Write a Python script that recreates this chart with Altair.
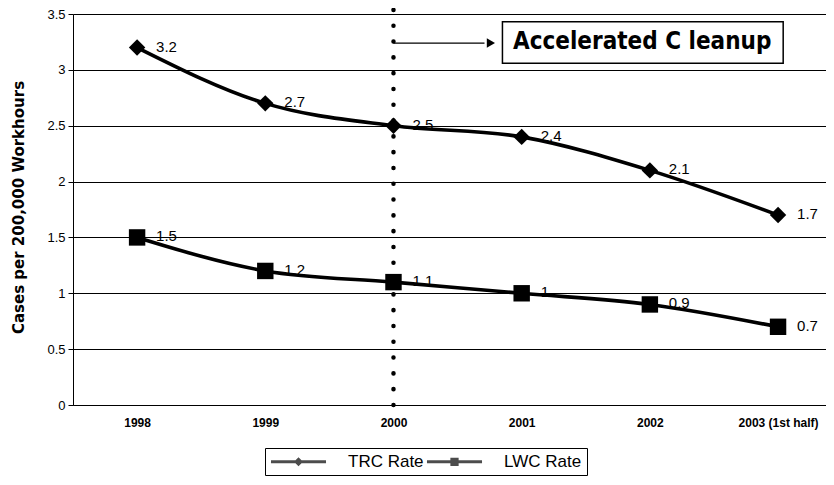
import json
import altair as alt
import pandas as pd

years = ["1998", "1999", "2000", "2001", "2002", "2003 (1st half)"]
trc = [3.2, 2.7, 2.5, 2.4, 2.1, 1.7]
lwc = [1.5, 1.2, 1.1, 1.0, 0.9, 0.7]
trc_labels = ["3.2", "2.7", "2.5", "2.4", "2.1", "1.7"]
lwc_labels = ["1.5", "1.2", "1.1", "1", "0.9", "0.7"]
series_names = ["TRC Rate", "LWC Rate"]
y_ticks = [0, 0.5, 1, 1.5, 2, 2.5, 3, 3.5]
annotation_text = "Accelerated C leanup"
y_title = "Cases per 200,000 Workhours"

rows = []
for s, vals, labs in [(series_names[0], trc, trc_labels), (series_names[1], lwc, lwc_labels)]:
    for i, (yr, v, lab) in enumerate(zip(years, vals, labs)):
        rows.append({"series": s, "idx": i, "year": yr, "value": v, "label": lab})
df = pd.DataFrame(rows)

FONT = "Liberation Sans"
label_expr = json.dumps(years) + "[datum.value]"

xscale = alt.Scale(domain=[-0.5, 5.374], nice=False, zero=False)
yscale = alt.Scale(domain=[0, 3.5], nice=False)

x_enc = alt.X("idx:Q", scale=xscale, title=None,
              axis=alt.Axis(values=list(range(len(years))), labelExpr=label_expr, grid=False,
                            ticks=False, domain=True, domainColor="black", labelPadding=12,
                            labelFont=FONT, labelFontSize=12, labelFontWeight="bold",
                            labelColor="black"))
y_enc = alt.Y("value:Q", scale=yscale, title=y_title,
              axis=alt.Axis(values=y_ticks, format="~g", grid=True, gridColor="black", gridOpacity=1,
                            gridWidth=1, domainColor="black", tickColor="black", tickSize=5,
                            labelPadding=3, labelFont=FONT, labelFontSize=13, labelColor="black",
                            titleFont="DejaVu Sans", titleFontSize=15, titleFontWeight="bold",
                            titleColor="black", titleX=-55, titleY=193, titleBaseline="middle"))

base = alt.Chart(df)

lines = base.mark_line(interpolate="monotone", strokeWidth=3.6, color="black").encode(
    x=x_enc, y=y_enc, detail="series:N")

points = base.mark_point(filled=True, size=270, color="black", opacity=1).encode(
    x="idx:Q", y="value:Q",
    shape=alt.Shape("series:N", scale=alt.Scale(domain=series_names, range=["diamond", "square"]),
                    legend=None))

texts = base.mark_text(align="left", baseline="middle", dx=19, dy=-1, fontSize=15, font=FONT,
                       color="black").encode(x="idx:Q", y="value:Q", text="label:N")

legend_path_trc = "M-3.67,-0.2H3.67V0.2H-3.67Z M0,-0.6L0.6,0L0,0.6L-0.6,0Z"
legend_path_lwc = "M-3.67,-0.2H3.67V0.2H-3.67Z M-0.55,-0.55H0.55V0.55H-0.55Z"
legend_layer = base.transform_filter("false").mark_point(filled=True, color="black").encode(
    x="idx:Q", y="value:Q",
    shape=alt.Shape("series:N", scale=alt.Scale(domain=series_names, range=[legend_path_trc, legend_path_lwc]),
                    legend=alt.Legend(title=None, orient="none", legendX=192, legendY=434,
                                      direction="horizontal", symbolSize=225, symbolOffset=20,
                                      labelOffset=41, symbolFillColor="black", symbolStrokeWidth=0,
                                      labelFont="Liberation Sans Narrow, " + FONT, labelFontSize=17,
                                      labelColor="black", strokeColor="black", padding=5,
                                      columnPadding=2, fillColor="white")))

vline_df = pd.DataFrame({"idx": [2], "y0": [0.0], "y1": [3.62]})
vline = alt.Chart(vline_df).mark_rule(strokeDash=[0.1, 15.7], strokeCap="round", strokeWidth=4.5,
                                      color="black").encode(x="idx:Q", y="y0:Q", y2="y1:Q")

arrow_df = pd.DataFrame({"x0": [2.0], "x1": [2.71], "y": [3.24], "tip": [2.76]})
arrow_line = alt.Chart(arrow_df).mark_rule(color="black", strokeWidth=1.2).encode(
    x="x0:Q", x2="x1:Q", y="y:Q")
arrow_head = alt.Chart(arrow_df).mark_point(shape="triangle-right", filled=True, size=90,
                                            color="black", opacity=1).encode(x="tip:Q", y="y:Q")

box_df = pd.DataFrame({"x0": [2.85], "x1": [5.04], "y0": [3.06], "y1": [3.43],
                       "tx": [3.94], "ty": [3.245], "text": [annotation_text]})
box = alt.Chart(box_df).mark_rect(fill="white", stroke="black", strokeWidth=1.5).encode(
    x="x0:Q", x2="x1:Q", y="y0:Q", y2="y1:Q")
box_text = alt.Chart(box_df).mark_text(font="DejaVu Sans Condensed, DejaVu Sans, sans-serif",
                                       fontSize=24, fontWeight="bold", color="black",
                                       align="center", baseline="middle").encode(
    x="tx:Q", y="ty:Q", text="text:N")

chart = alt.layer(lines, vline, arrow_line, arrow_head, box, box_text, points, texts, legend_layer).resolve_scale(
    shape="independent"
).properties(
    width=753, height=391,
    autosize=alt.AutoSizeParams(type="none"),
    padding={"left": 65, "top": 6, "right": 0, "bottom": 72},
).configure_view(stroke=None).configure(background="white")

chart.save("out.html", embed_options={"renderer": "svg", "actions": False})
